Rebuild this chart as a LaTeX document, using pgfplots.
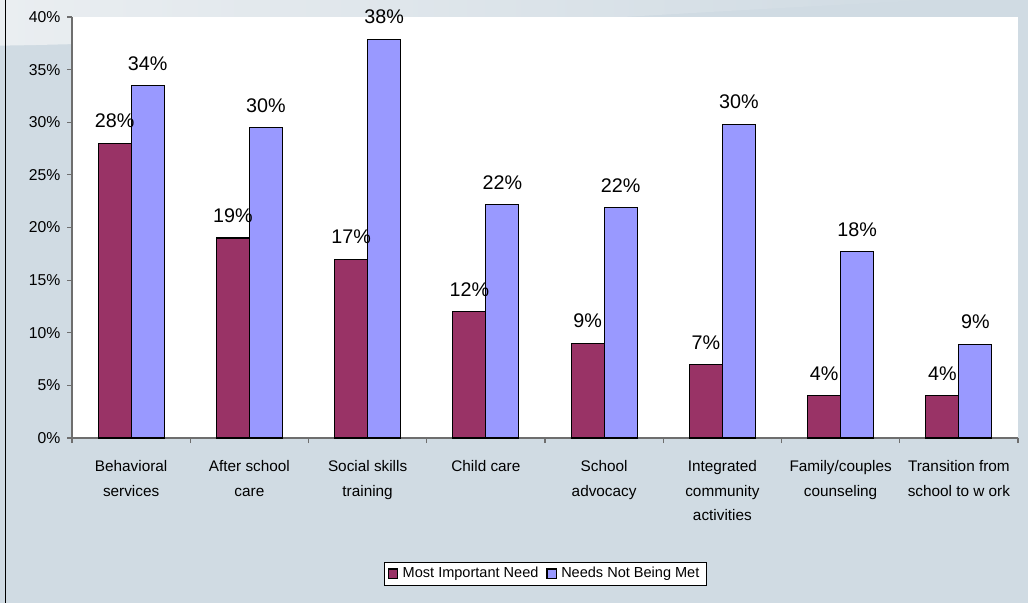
\documentclass[border=0pt]{standalone}
\usepackage{pgfplots}
\pgfplotsset{compat=1.18}
\usepackage{pgfplotstable}
\usepackage{fontspec}
\setmainfont{Liberation Sans}
\definecolor{maroonbar}{RGB}{153,51,102}
\definecolor{bluebar}{RGB}{153,153,255}
\definecolor{bg}{RGB}{208,219,227}
\definecolor{bglight}{RGB}{234,238,241}
\definecolor{axisgray}{RGB}{110,110,110}

\pgfplotstableread{
x mi mil nm nml
0 28 28 33.5 34
1 19 19 29.5 30
2 17 17 37.9 38
3 12 12 22.2 22
4 9 9 21.9 22
5 7 7 29.8 30
6 4 4 17.7 18
7 4 4 8.9 9
}\data

\begin{document}
\begin{tikzpicture}
\useasboundingbox (0pt,0pt) rectangle (771pt,452.25pt);
\fill[bg] (0pt,0pt) rectangle (771pt,452.25pt);
\shade[left color=bglight, right color=bg] (0pt,452.25pt) -- (0pt,418pt) .. controls (200pt,421pt) and (450pt,440pt) .. (700pt,452.25pt) -- cycle;
\draw[black, line width=1.2pt] (4pt,0pt) -- (4pt,452.25pt);
\begin{axis}[
  at={(54pt,123.75pt)}, anchor=south west,
  scale only axis, width=709.5pt, height=315.75pt,
  ybar=0pt, bar width=24.75pt,
  xmin=-0.5, xmax=7.5, ymin=0, ymax=40,
  axis x line*=bottom, axis y line*=left,
  axis line style={axisgray, line width=0.8pt},
  axis background/.style={fill=white},
  xtick={0,...,7},
  xticklabels={{Behavioral\\services},{After school\\care},{Social skills\\training},{Child care},{School\\advocacy},{Integrated\\community\\activities},{Family/couples\\counseling},{Transition from\\school to w ork}},
  major x tick style={draw=none},
  minor xtick={-0.5,0.5,...,7.5},
  ytick={0,5,...,40},
  tick align=outside, major tick length=3.75pt, minor tick length=3.75pt,
  tick style={axisgray, line width=0.8pt},
  yticklabel={\pgfmathprintnumber[assume math mode=true]{\tick}\%},
  yticklabel style={font=\fontsize{11.8}{13}\selectfont, xshift=-1.5pt},
  xticklabel style={font=\fontsize{11.5}{18.5}\selectfont, align=center, yshift=-9.5pt},
  point meta=explicit,
  nodes near coords={\pgfmathprintnumber[assume math mode=true]{\pgfplotspointmeta}\%},
  nodes near coords style={font=\fontsize{14.8}{16}\selectfont, anchor=south, inner sep=0pt, yshift=11pt},
  legend style={at={(0.5,-0.322)}, anchor=center, legend columns=2, draw=black, fill=white,
    font=\fontsize{10.9}{13}\selectfont,
    /tikz/every even column/.append style={column sep=4pt},
    /tikz/every odd column/.append style={column sep=1.5pt}},
  legend image code/.code={\draw[#1, draw=black] (0pt,-3.4pt) rectangle (6.8pt,3.4pt);},
  clip=false,
]
\addplot[fill=maroonbar, draw=black, line width=0.8pt] table[x=x, y=mi, meta=mil] {\data};
\addplot[fill=bluebar, draw=black, line width=0.8pt] table[x=x, y=nm, meta=nml] {\data};
\legend{Most Important Need, Needs Not Being Met}
\end{axis}
\end{tikzpicture}
\end{document}
